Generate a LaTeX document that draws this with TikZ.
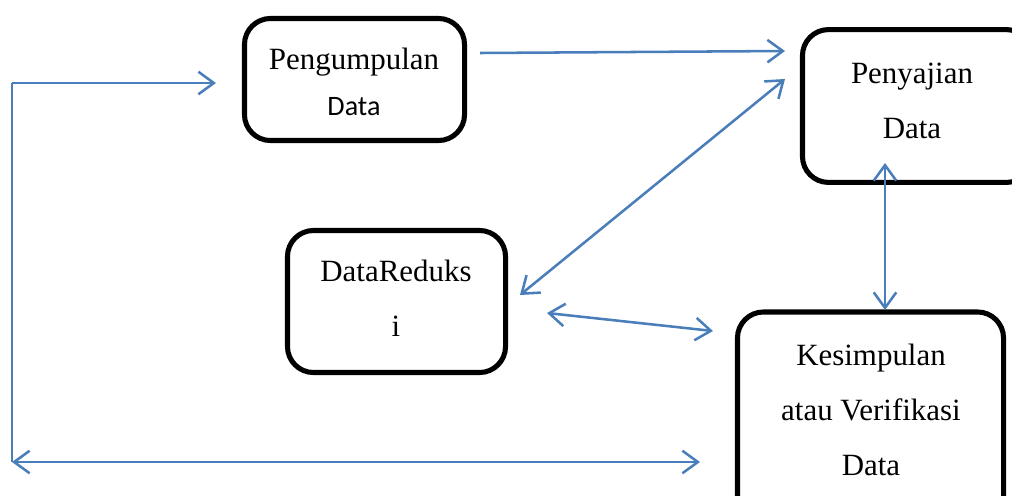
\documentclass[tikz,border=0pt]{standalone}
\usepackage{fontspec}
\setmainfont{Liberation Serif}
\newfontfamily\calibrifont{Carlito}
\usetikzlibrary{arrows.meta}
\definecolor{lineblue}{RGB}{74,126,187}

\tikzset{
  stagebox/.style={draw, line width=3.6pt, rounded corners=0.65cm, inner sep=0pt},
  stagetext/.style={align=center, font=\fontsize{22}{39}\selectfont},
  barb/.tip={Straight Barb[length=11pt,width=16pt,line width=1.8pt]},
  flow/.style={draw=lineblue, line width=1.8pt, -barb},
  twoway/.style={draw=lineblue, line width=1.8pt, barb-barb}
}

\begin{document}
\begin{tikzpicture}[x=0.025cm, y=-0.025cm]
\useasboundingbox (0,0) rectangle (1012,495);
\clip (0,0) rectangle (1012,495);

% boxes
\node[stagebox, minimum width=5.5cm, minimum height=3.05cm] (kumpul) at (354.5,79.5) {};
\node[stagebox, minimum width=5.75cm, minimum height=3.82cm] (saji) at (917.5,106) {};
\node[stagebox, minimum width=5.45cm, minimum height=3.55cm] (reduksi) at (396.5,301.5) {};
\node[stagebox, minimum width=6.65cm, minimum height=5.45cm] (simpul) at (870.5,421) {};

% labels
\node[stagetext] (kumpultext) at (354,82) {Pengumpulan\\[-6pt]{\calibrifont\fontsize{20}{24}\selectfont Data}};
\node[stagetext] (sajitext) at (912,101) {Penyajian\\Data};
\node[stagetext] (reduksitext) at (396,298) {DataReduks\\i};
\node[stagetext] (simpultext) at (871,410) {Kesimpulan\\atau Verifikasi\\Data};

% connector end points
\coordinate (loopa) at (12,83);
\coordinate (loopb) at (12,462);
\coordinate (kumpulin) at (216,83);
\coordinate (simpulin) at (700,462);
\coordinate (kumpulout) at (480,53);
\coordinate (sajiina) at (785,51);
\coordinate (sajiinb) at (785,79);
\coordinate (reduksiouta) at (520,295);
\coordinate (reduksioutb) at (547,313);
\coordinate (simpulina) at (713,331);
\coordinate (sajibottom) at (885,163);
\coordinate (simpultop) at (885,310);

% connectors
\draw[draw=lineblue, line width=1.5pt] (loopb) -- (loopa);
\draw[flow] (loopa) -- (kumpulin);
\draw[twoway] (loopb) -- (simpulin);
\draw[flow] (kumpulout) -- (sajiina);
\draw[twoway] (reduksiouta) -- (sajiinb);
\draw[twoway] (reduksioutb) -- (simpulina);
\draw[twoway] (sajibottom) -- (simpultop);
\end{tikzpicture}
\end{document}
